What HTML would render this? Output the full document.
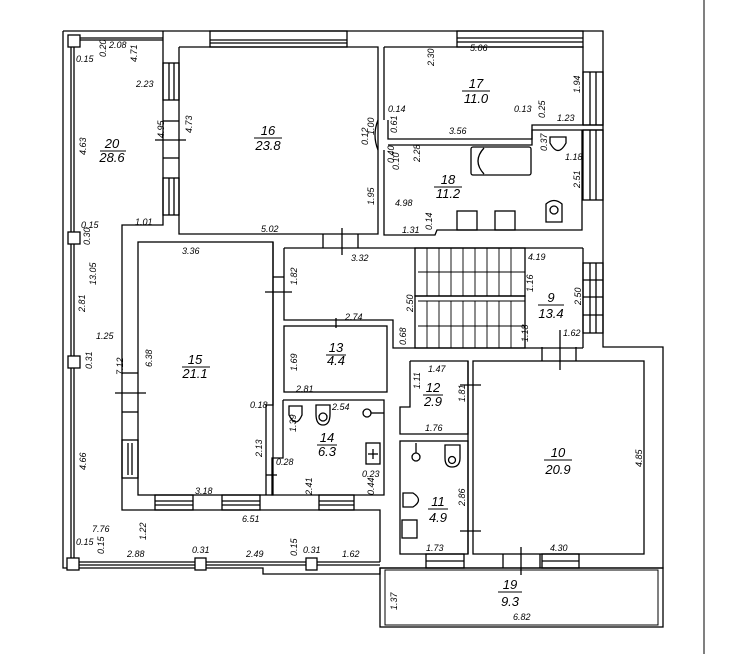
<!DOCTYPE html>
<html><head><meta charset="utf-8"><style>
html,body{margin:0;padding:0;background:#fff;width:732px;height:654px;overflow:hidden}
svg{display:block}
text{font-family:"Liberation Sans",sans-serif;font-style:italic;fill:#000}
.d{font-size:9px}
.n{font-size:13px;font-style:italic}
</style></head><body>
<svg width="732" height="654" viewBox="0 0 732 654" xmlns="http://www.w3.org/2000/svg">
<g fill="none" stroke="#000" stroke-width="1.3">
<!-- outer -->
<polyline points="63,31 603,31 603,347 663,347 663,568 380,568 380,574 263,574 263,568 63,568 63,31"/>
<line x1="704" y1="0" x2="704" y2="654" stroke-width="1"/>
<!-- left thin double line -->
<line x1="71" y1="41" x2="71" y2="565"/><line x1="74" y1="41" x2="74" y2="565"/>
<line x1="74" y1="38" x2="163" y2="38"/><line x1="74" y1="40" x2="163" y2="40"/>
<line x1="75" y1="562" x2="380" y2="562"/><line x1="75" y1="565" x2="380" y2="565"/>
<rect x="68" y="35" width="12" height="12" fill="#fff"/>
<rect x="68" y="232" width="12" height="12" fill="#fff"/>
<rect x="68" y="356" width="12" height="12" fill="#fff"/>
<rect x="67" y="558" width="12" height="12" fill="#fff"/>
<rect x="195" y="558" width="11" height="12" fill="#fff"/>
<rect x="306" y="558" width="11" height="12" fill="#fff"/>
<!-- wall 16/20 -->
<polyline points="163,31 163,225 122,225 122,510 380,510 380,562"/>
<polyline points="179,47 378,47 378,234 179,234 179,47"/>
<rect x="210" y="31" width="137" height="16"/>
<line x1="210" y1="40" x2="347" y2="40"/><line x1="210" y1="43" x2="347" y2="43"/>
<rect x="163" y="63" width="16" height="37"/><line x1="169" y1="63" x2="169" y2="100"/><line x1="174" y1="63" x2="174" y2="100"/>
<rect x="163" y="178" width="16" height="37"/><line x1="169" y1="178" x2="169" y2="215"/><line x1="174" y1="178" x2="174" y2="215"/>
<line x1="163" y1="121" x2="179" y2="121"/><line x1="163" y1="158" x2="179" y2="158"/>
<line x1="155" y1="140" x2="186" y2="140"/>
<!-- 17 -->
<polyline points="384,47 583,47 583,125 532,125 532,139 388,139 388,120"/>
<line x1="384" y1="47" x2="384" y2="120"/>
<path d="M378,120 Q372,135 378,150"/>
<rect x="457" y="31" width="126" height="16"/>
<line x1="457" y1="38" x2="583" y2="38"/><line x1="457" y1="42" x2="583" y2="42"/>
<rect x="583" y="72" width="20" height="53"/><line x1="590" y1="72" x2="590" y2="125"/><line x1="596" y1="72" x2="596" y2="125"/>
<line x1="583" y1="125" x2="603" y2="125"/><line x1="583" y1="130" x2="603" y2="130"/>
<!-- 18 -->
<polyline points="388,145 532,145 532,130 582,130 582,230 437,230 435,235 384,235 384,150"/>
<rect x="583" y="130" width="20" height="70"/><line x1="590" y1="130" x2="590" y2="200"/><line x1="596" y1="130" x2="596" y2="200"/>
<rect x="471" y="147" width="60" height="28" rx="2"/><path d="M484,148 Q472,161 484,174"/>
<rect x="457" y="211" width="20" height="19"/><rect x="495" y="211" width="20" height="19"/>
<path d="M546,204 L546,222 L562,222 L562,204 Q554,197 546,204Z"/><circle cx="554" cy="210" r="4"/>
<path d="M550,137 L566,137 L566,143 Q558,158 550,143Z"/>
<!-- corridor top -->
<line x1="284" y1="248" x2="583" y2="248"/>
<polyline points="284,248 284,320 393,320 393,348 583,348"/>
<line x1="323" y1="234" x2="323" y2="248"/><line x1="358" y1="234" x2="358" y2="248"/>
<line x1="342" y1="228" x2="342" y2="255"/>
<!-- stairs -->
<rect x="415" y="248" width="110" height="48"/><rect x="415" y="296" width="110" height="52"/>
<g stroke-width="0.9">
<line x1="427" y1="248" x2="427" y2="296"/><line x1="439" y1="248" x2="439" y2="296"/><line x1="451" y1="248" x2="451" y2="296"/><line x1="463" y1="248" x2="463" y2="296"/><line x1="475" y1="248" x2="475" y2="296"/><line x1="487" y1="248" x2="487" y2="296"/><line x1="499" y1="248" x2="499" y2="296"/><line x1="511" y1="248" x2="511" y2="296"/>
<line x1="427" y1="301" x2="427" y2="348"/><line x1="439" y1="301" x2="439" y2="348"/><line x1="451" y1="301" x2="451" y2="348"/><line x1="463" y1="301" x2="463" y2="348"/><line x1="475" y1="301" x2="475" y2="348"/><line x1="487" y1="301" x2="487" y2="348"/><line x1="499" y1="301" x2="499" y2="348"/><line x1="511" y1="301" x2="511" y2="348"/>
<line x1="418" y1="272" x2="525" y2="272"/><line x1="418" y1="301" x2="525" y2="301"/><line x1="418" y1="326" x2="525" y2="326"/>
</g>
<line x1="583" y1="248" x2="583" y2="348"/>
<rect x="583" y="263" width="20" height="70"/><line x1="590" y1="263" x2="590" y2="333"/><line x1="596" y1="263" x2="596" y2="333"/><line x1="583" y1="280" x2="603" y2="280"/><line x1="583" y1="297" x2="603" y2="297"/><line x1="583" y1="315" x2="603" y2="315"/>
<!-- 15 -->
<rect x="138" y="242" width="135" height="253"/>
<polyline points="273,242 273,405 266,405 266,495"/>
<rect x="122" y="440" width="16" height="38"/><line x1="128" y1="443" x2="128" y2="475"/><line x1="132" y1="443" x2="132" y2="475"/>
<line x1="122" y1="373" x2="138" y2="373"/><line x1="122" y1="412" x2="138" y2="412"/>
<line x1="115" y1="393" x2="146" y2="393"/>
<line x1="265" y1="292" x2="292" y2="292"/><line x1="273" y1="277" x2="284" y2="277"/>
<rect x="155" y="495" width="38" height="15"/><line x1="155" y1="501" x2="193" y2="501"/><line x1="155" y1="505" x2="193" y2="505"/>
<rect x="222" y="495" width="38" height="15"/><line x1="222" y1="501" x2="260" y2="501"/><line x1="222" y1="505" x2="260" y2="505"/>
<!-- 13 -->
<rect x="284" y="326" width="103" height="66"/>
<line x1="336" y1="318" x2="336" y2="328"/>
<!-- 14 -->
<polyline points="283,400 384,400 384,495 272,495 272,458 283,458 283,400"/>
<rect x="319" y="495" width="35" height="15"/><line x1="319" y1="501" x2="354" y2="501"/><line x1="319" y1="505" x2="354" y2="505"/>
<path d="M289,406 L302,406 L302,415 Q296,429 289,415Z"/>
<path d="M316,405 L330,405 L330,414 Q330,425 323,425 Q316,425 316,414Z"/><circle cx="323" cy="417" r="4"/>
<circle cx="367" cy="413" r="4"/><line x1="371" y1="413" x2="384" y2="413"/>
<rect x="366" y="443" width="14" height="21"/><line x1="373" y1="449" x2="373" y2="459"/><line x1="368" y1="454" x2="378" y2="454"/>
<line x1="266" y1="475" x2="277" y2="475"/>
<!-- 12 -->
<polyline points="410,361 468,361 468,434 400,434 400,407 410,407 410,361"/>
<line x1="460" y1="385" x2="481" y2="385"/>
<!-- 11 -->
<rect x="400" y="441" width="68" height="113"/>
<circle cx="416" cy="457" r="4"/><line x1="416" y1="443" x2="416" y2="453"/>
<path d="M445,445 L460,445 L460,458 Q460,467 452,467 Q445,467 445,458Z"/><circle cx="452" cy="460" r="3.5"/>
<path d="M403,493 L413,493 Q424,500 413,507 L403,507Z"/>
<rect x="402" y="520" width="15" height="18"/>
<rect x="426" y="554" width="38" height="14"/><line x1="426" y1="561" x2="464" y2="561"/>
<line x1="460" y1="531" x2="481" y2="531"/>
<!-- 10 -->
<rect x="473" y="361" width="171" height="193"/>
<rect x="542" y="554" width="37" height="14"/><line x1="542" y1="561" x2="579" y2="561"/>
<line x1="503" y1="554" x2="503" y2="568"/><line x1="540" y1="554" x2="540" y2="568"/>
<line x1="521" y1="547" x2="521" y2="575"/>
<line x1="542" y1="347" x2="542" y2="361"/><line x1="576" y1="347" x2="576" y2="361"/>
<line x1="560" y1="330" x2="560" y2="370"/>
<line x1="468" y1="361" x2="468" y2="554"/>
<!-- 19 -->
<rect x="385" y="570" width="273" height="55" stroke-width="1"/>
<rect x="380" y="568" width="283" height="59"/>
</g>
<!-- room labels -->
<g text-anchor="middle" class="n">
<text x="112" y="148">20</text><line x1="100" y1="151" x2="126" y2="151" stroke="#000"/><text x="112" y="162">28.6</text>
<text x="268" y="135">16</text><line x1="254" y1="138" x2="282" y2="138" stroke="#000"/><text x="268" y="150">23.8</text>
<text x="476" y="88">17</text><line x1="462" y1="91" x2="490" y2="91" stroke="#000"/><text x="476" y="103">11.0</text>
<text x="448" y="184">18</text><line x1="434" y1="187" x2="462" y2="187" stroke="#000"/><text x="448" y="198">11.2</text>
<text x="551" y="302">9</text><line x1="538" y1="305" x2="564" y2="305" stroke="#000"/><text x="551" y="318">13.4</text>
<text x="195" y="364">15</text><line x1="182" y1="367" x2="210" y2="367" stroke="#000"/><text x="195" y="378">21.1</text>
<text x="336" y="352">13</text><line x1="326" y1="355" x2="346" y2="355" stroke="#000"/><text x="336" y="365">4.4</text>
<text x="327" y="442">14</text><line x1="317" y1="445" x2="337" y2="445" stroke="#000"/><text x="327" y="456">6.3</text>
<text x="433" y="392">12</text><line x1="423" y1="395" x2="443" y2="395" stroke="#000"/><text x="433" y="406">2.9</text>
<text x="438" y="506">11</text><line x1="428" y1="509" x2="448" y2="509" stroke="#000"/><text x="438" y="522">4.9</text>
<text x="558" y="457">10</text><line x1="544" y1="460" x2="572" y2="460" stroke="#000"/><text x="558" y="474">20.9</text>
<text x="510" y="589">19</text><line x1="498" y1="592" x2="522" y2="592" stroke="#000"/><text x="510" y="606">9.3</text>
</g>
<!-- dims -->
<g class="d">
<text x="76" y="62">0.15</text><text x="109" y="48">2.08</text><text x="136" y="87">2.23</text>
<text x="81" y="228">0.15</text><text x="135" y="225">1.01</text><text x="261" y="232">5.02</text>
<text x="182" y="254">3.36</text><text x="351" y="261">3.32</text><text x="470" y="51">5.06</text>
<text x="388" y="112">0.14</text><text x="449" y="134">3.56</text><text x="514" y="112">0.13</text><text x="557" y="121">1.23</text>
<text x="565" y="160">1.18</text><text x="395" y="206">4.98</text><text x="402" y="233">1.31</text>
<text x="528" y="260">4.19</text><text x="563" y="336">1.62</text><text x="345" y="320">2.74</text>
<text x="96" y="339">1.25</text><text x="250" y="408">0.18</text><text x="332" y="410">2.54</text>
<text x="296" y="392">2.81</text><text x="276" y="465">0.28</text><text x="362" y="477">0.23</text>
<text x="195" y="494">3.18</text><text x="242" y="522">6.51</text><text x="92" y="532">7.76</text>
<text x="76" y="545">0.15</text><text x="127" y="557">2.88</text><text x="192" y="553">0.31</text><text x="246" y="557">2.49</text><text x="303" y="553">0.31</text><text x="342" y="557">1.62</text>
<text x="428" y="372">1.47</text><text x="425" y="431">1.76</text><text x="426" y="551">1.73</text><text x="550" y="551">4.30</text><text x="513" y="620">6.82</text>
</g>
<g class="d">
<text transform="translate(106,57) rotate(-90)">0.20</text>
<text transform="translate(137,62) rotate(-90)">4.71</text>
<text transform="translate(164,138) rotate(-90)">4.95</text>
<text transform="translate(192,133) rotate(-90)">4.73</text>
<text transform="translate(86,155) rotate(-90)">4.63</text>
<text transform="translate(90,245) rotate(-90)">0.30</text>
<text transform="translate(96,285) rotate(-90)">13.05</text>
<text transform="translate(85,312) rotate(-90)">2.81</text>
<text transform="translate(92,369) rotate(-90)">0.31</text>
<text transform="translate(123,375) rotate(-90)">7.12</text>
<text transform="translate(152,367) rotate(-90)">6.38</text>
<text transform="translate(86,470) rotate(-90)">4.66</text>
<text transform="translate(104,554) rotate(-90)">0.15</text>
<text transform="translate(146,540) rotate(-90)">1.22</text>
<text transform="translate(297,556) rotate(-90)">0.15</text>
<text transform="translate(297,285) rotate(-90)">1.82</text>
<text transform="translate(297,371) rotate(-90)">1.69</text>
<text transform="translate(262,457) rotate(-90)">2.13</text>
<text transform="translate(296,432) rotate(-90)">1.39</text>
<text transform="translate(312,495) rotate(-90)">2.41</text>
<text transform="translate(374,495) rotate(-90)">0.44</text>
<text transform="translate(374,135) rotate(-90)">1.00</text>
<text transform="translate(368,145) rotate(-90)">0.12</text>
<text transform="translate(374,205) rotate(-90)">1.95</text>
<text transform="translate(434,66) rotate(-90)">2.30</text>
<text transform="translate(397,133) rotate(-90)">0.61</text>
<text transform="translate(394,163) rotate(-90)">0.40</text>
<text transform="translate(399,170) rotate(-90)">0.10</text>
<text transform="translate(420,162) rotate(-90)">2.28</text>
<text transform="translate(432,230) rotate(-90)">0.14</text>
<text transform="translate(545,118) rotate(-90)">0.25</text>
<text transform="translate(547,151) rotate(-90)">0.37</text>
<text transform="translate(580,93) rotate(-90)">1.94</text>
<text transform="translate(580,188) rotate(-90)">2.51</text>
<text transform="translate(533,292) rotate(-90)">1.16</text>
<text transform="translate(413,312) rotate(-90)">2.50</text>
<text transform="translate(406,345) rotate(-90)">0.68</text>
<text transform="translate(528,342) rotate(-90)">1.18</text>
<text transform="translate(581,305) rotate(-90)">2.50</text>
<text transform="translate(420,389) rotate(-90)">1.11</text>
<text transform="translate(465,402) rotate(-90)">1.81</text>
<text transform="translate(465,506) rotate(-90)">2.86</text>
<text transform="translate(642,467) rotate(-90)">4.85</text>
<text transform="translate(397,610) rotate(-90)">1.37</text>
</g>
</svg>
</body></html>
